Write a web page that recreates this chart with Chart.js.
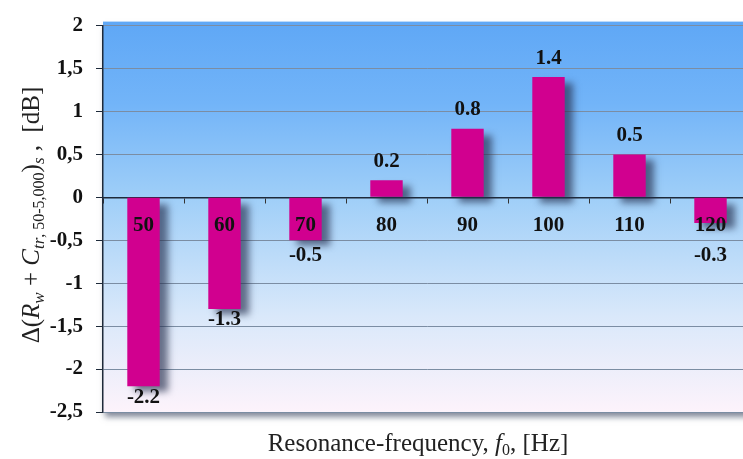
<!DOCTYPE html>
<html>
<head>
<meta charset="utf-8">
<script src="https://cdn.jsdelivr.net/npm/chart.js@4/dist/chart.umd.min.js"></script>
<style>
  html, body { margin: 0; padding: 0; background: #fff; overflow: hidden; }
  #wrap { width: 751px; height: 459px; }
</style>
</head>
<body>
<div id="wrap"><canvas id="chart-dr" width="751" height="459"></canvas></div>
<script>
// ------------------ data ------------------
var freqs = ['50', '60', '70', '80', '90', '100', '110', '120'];
var deltaDb = [-2.2, -1.3, -0.5, 0.2, 0.8, 1.4, 0.5, -0.3];
var yMin = -2.5, yMax = 2, yStep = 0.5;

var serif = '"Liberation Serif", "DejaVu Serif", serif';

// plot background gradient + shadow under the plot box
var bgPlugin = {
    id: 'bg',
    beforeDraw: function (chart) {
        var a = chart.chartArea, ctx = chart.ctx;
        var g = ctx.createLinearGradient(0, a.top, 0, a.bottom);
        g.addColorStop(0, '#60a8f6');
        g.addColorStop(0.2, '#72b4f8');
        g.addColorStop(0.45, '#a0cff8');
        g.addColorStop(0.75, '#d9e8fa');
        g.addColorStop(1, '#fdf3fb');
        ctx.save();
        ctx.shadowColor = 'rgba(30,40,70,0.55)';
        ctx.shadowBlur = 6;
        ctx.shadowOffsetY = 5;
        ctx.shadowOffsetX = 2;
        ctx.fillStyle = g;
        ctx.fillRect(a.left, a.top - 4, a.right - a.left, a.bottom - a.top + 4);
        ctx.restore();
    }
};

// drop shadow for the bars
var shadowPlugin = {
    id: 'barShadow',
    beforeDatasetsDraw: function (chart) {
        var ctx = chart.ctx;
        ctx.save();
        ctx.shadowColor = 'rgba(35,45,75,0.65)';
        ctx.shadowBlur = 7;
        ctx.shadowOffsetX = 8;
        ctx.shadowOffsetY = 6;
    },
    afterDatasetsDraw: function (chart) {
        chart.ctx.restore();
    }
};

// value labels above / below bars
var valuePlugin = {
    id: 'values',
    afterDraw: function (chart) {
        var ctx = chart.ctx;
        var meta = chart.getDatasetMeta(0);
        var zero = chart.scales.y.getPixelForValue(0);
        ctx.save();
        ctx.font = 'bold 21px ' + serif;
        ctx.fillStyle = '#111';
        ctx.textAlign = 'center';
        ctx.textBaseline = 'middle';
        meta.data.forEach(function (bar, i) {
            var v = deltaDb[i];
            // negative labels go under the bar, but never on top of the category label
            var y = v >= 0 ? bar.y - 19 : Math.max(bar.y + 11, zero + 58);
            ctx.fillText(v.toFixed(1), bar.x, y);
        });
        ctx.restore();
    }
};

function drawRich(ctx, parts) {
    var w = 0;
    parts.forEach(function (p) { ctx.font = p.f; p.w = ctx.measureText(p.t).width; w += p.w; });
    var x = -w / 2;
    parts.forEach(function (p) {
        ctx.font = p.f;
        ctx.fillText(p.t, x, p.dy || 0);
        x += p.w;
    });
}

// axis titles with italic symbols and subscripts
var titlePlugin = {
    id: 'titles',
    afterDraw: function (chart) {
        var ctx = chart.ctx;
        var n = '25px ' + serif, it = 'italic 25px ' + serif;
        var sn = '16px ' + serif, si = 'italic 17px ' + serif;
        ctx.save();
        ctx.fillStyle = '#222';
        ctx.textAlign = 'left';
        ctx.textBaseline = 'alphabetic';
        ctx.translate(39, 215);
        ctx.rotate(-Math.PI / 2);
        drawRich(ctx, [
            {t: '\u0394(', f: n}, {t: 'R', f: it}, {t: 'w', f: si, dy: 5},
            {t: ' + ', f: n}, {t: 'C', f: it}, {t: 'tr', f: si, dy: 5},
            {t: ', 50-5,000', f: sn, dy: 5}, {t: ')', f: n}, {t: 's', f: si, dy: 5},
            {t: ' ,  [dB]', f: n}
        ]);
        ctx.restore();

        ctx.save();
        ctx.fillStyle = '#222';
        ctx.textAlign = 'left';
        ctx.textBaseline = 'alphabetic';
        ctx.translate(418, 451);
        drawRich(ctx, [
            {t: 'Resonance-frequency, ', f: n}, {t: 'f', f: it}, {t: '0', f: sn, dy: 4},
            {t: ', [Hz]', f: n}
        ]);
        ctx.restore();
    }
};

var ctx = document.getElementById('chart-dr').getContext('2d');
var chart_dr = new Chart(ctx, {
    type: 'bar',
    data: {
        labels: freqs,
        datasets: [{
            data: deltaDb,
            backgroundColor: '#d1008f',
            borderWidth: 0,
            categoryPercentage: 0.8,
            barPercentage: 0.5
        }]
    },
    options: {
        responsive: false,
        animation: false,
        layout: { padding: { top: 22, bottom: 47, left: 0, right: 0 } },
        plugins: { legend: { display: false }, tooltip: { enabled: false } },
        scales: {
            x: {
                position: { y: 0 },
                offset: true,
                grid: { drawOnChartArea: false, tickLength: 5, color: '#333', offset: true },
                border: { color: '#1e2a3a', width: 1.5 },
                ticks: { z: 1, color: '#111', font: { family: serif, size: 21, weight: 'bold' }, padding: 11 }
            },
            y: {
                min: yMin,
                max: yMax,
                afterFit: function (s) { s.width = 103; },
                grid: {
                    color: function (c) { return c.tick && c.tick.value === 0 ? '#1e2a3a' : '#7b8da3'; },
                    tickColor: '#1e2a3a',
                    tickLength: 7
                },
                border: { color: '#1e2a3a', width: 1.5 },
                ticks: {
                    stepSize: yStep,
                    padding: 13,
                    color: '#111',
                    font: { family: serif, size: 21, weight: 'bold' },
                    callback: function (v) { return String(v).replace('.', ','); }
                }
            }
        }
    },
    plugins: [bgPlugin, shadowPlugin, valuePlugin, titlePlugin]
});
</script>
</body>
</html>
